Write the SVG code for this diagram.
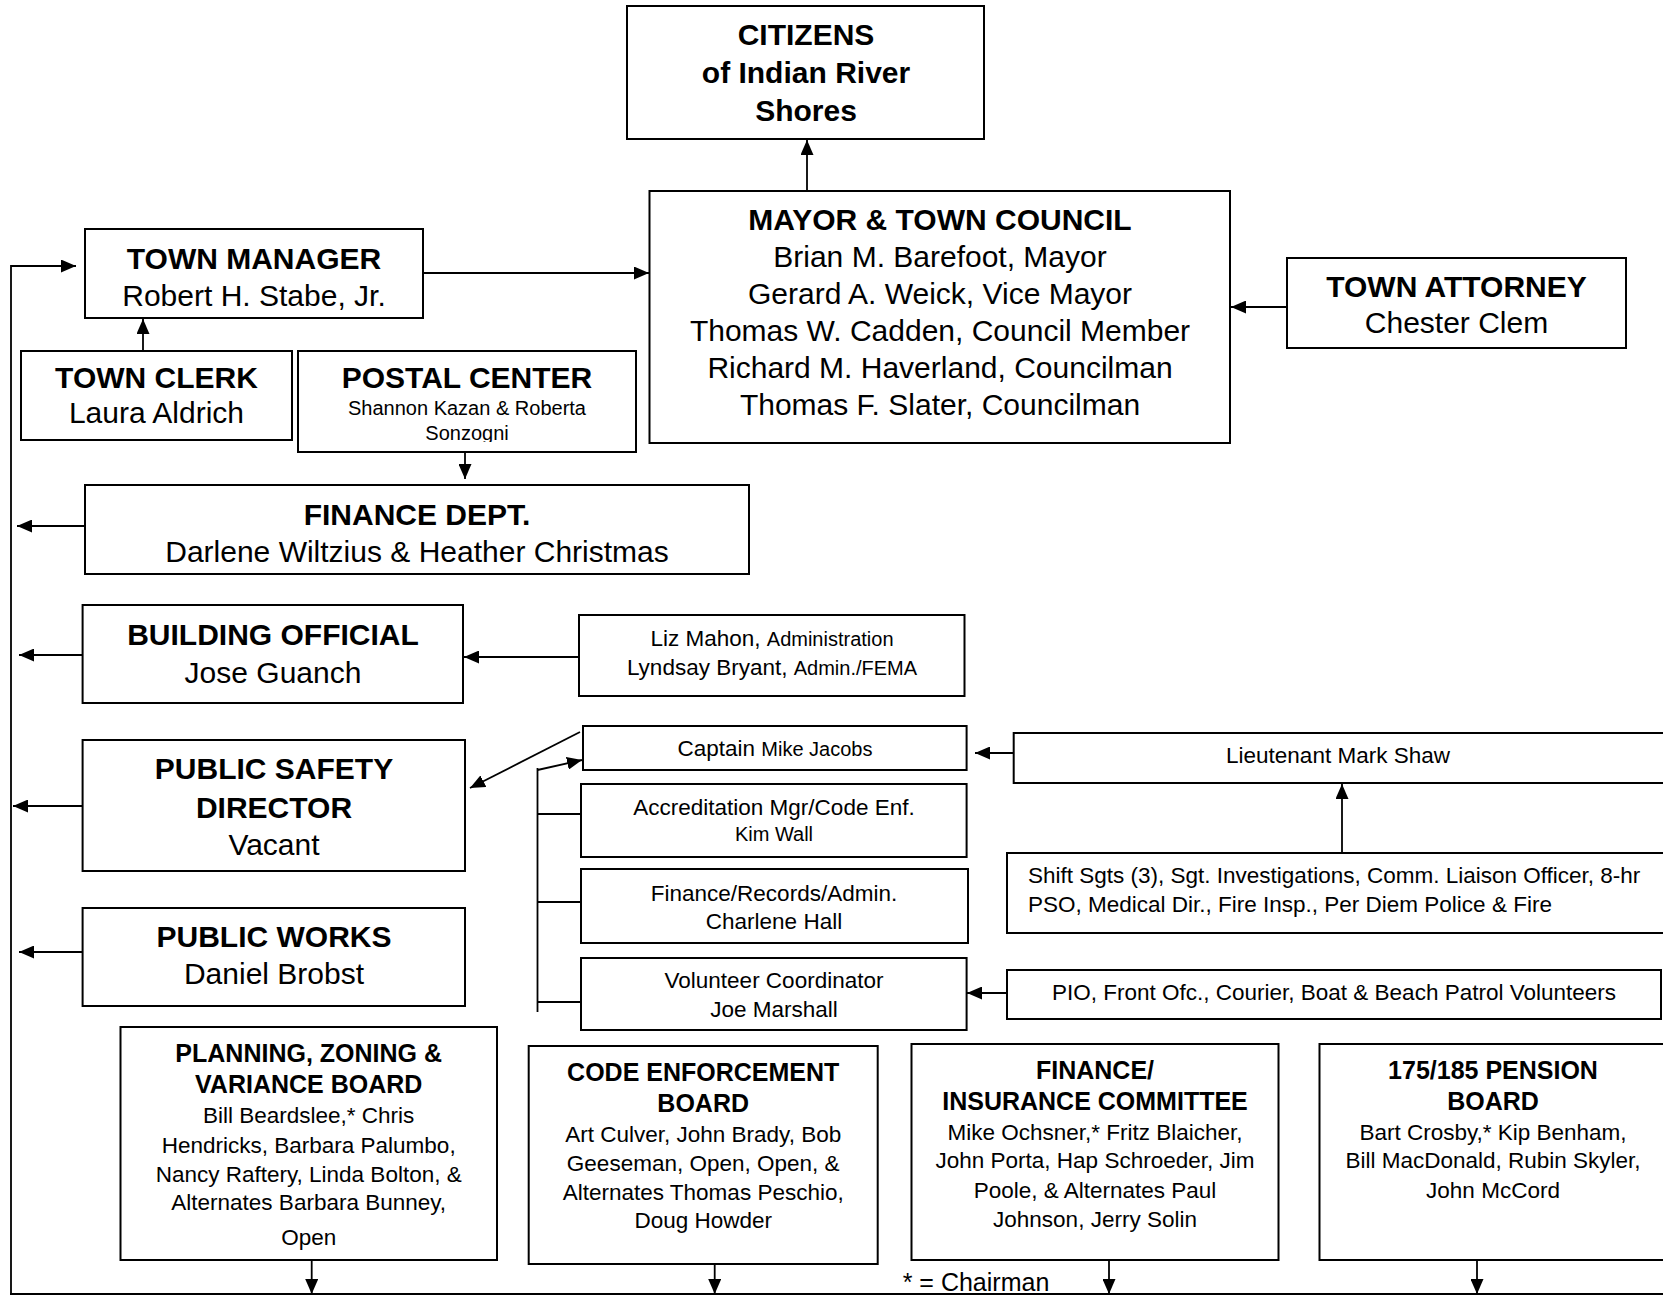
<svg xmlns="http://www.w3.org/2000/svg" width="1663" height="1295" viewBox="0 0 1663 1295">
<style>
  .box{fill:#fff;stroke:#000;stroke-width:2}
  .ln{fill:none;stroke:#000;stroke-width:1.8}
  .arr{fill:none;stroke:#000;stroke-width:1.8;marker-end:url(#ah)}
  text{font-family:"Liberation Sans",Arial,sans-serif;fill:#000;text-anchor:middle}
  .b30{font-size:30px;font-weight:bold}
  .r30{font-size:30px}
  .r22{font-size:22.5px}
  .s20{font-size:20px}
  .b25{font-size:25px;font-weight:bold}
  .r25{font-size:25px}
  .l{text-anchor:start}
</style>
<defs>
  <marker id="ah" viewBox="0 0 15 13" refX="15" refY="6.5" markerWidth="15" markerHeight="13" markerUnits="userSpaceOnUse" orient="auto">
    <path d="M0,0 L15,6.5 L0,13 z" fill="#000"/>
  </marker>
  <clipPath id="postalClip"><rect x="298" y="351" width="338" height="91"/></clipPath>
</defs>
<rect width="1663" height="1295" fill="#fff"/>

<g id="connectors">
  <line class="arr" x1="807" y1="191" x2="807" y2="140"/>
  <line class="arr" x1="423" y1="273" x2="649" y2="273"/>
  <line class="arr" x1="1287" y1="307" x2="1231" y2="307"/>
  <line class="arr" x1="143" y1="351" x2="143" y2="319"/>
  <line class="arr" x1="465" y1="452" x2="465" y2="479"/>
  <polyline class="arr" points="11,1294 11,266 76,266"/>
  <line class="ln" x1="10" y1="1294" x2="1663" y2="1294"/>
  <line class="arr" x1="85" y1="526" x2="17" y2="526"/>
  <line class="arr" x1="83" y1="655" x2="19" y2="655"/>
  <line class="arr" x1="579" y1="657" x2="464" y2="657"/>
  <line class="arr" x1="85" y1="806" x2="13" y2="806"/>
  <line class="arr" x1="83" y1="952" x2="19" y2="952"/>
  <line class="arr" x1="580" y1="732" x2="470" y2="788"/>
  <line class="ln" x1="537.5" y1="768" x2="537.5" y2="1012"/>
  <line class="arr" x1="537.5" y1="770" x2="582" y2="760"/>
  <line class="ln" x1="537.5" y1="814" x2="581" y2="814"/>
  <line class="ln" x1="537.5" y1="902" x2="583" y2="902"/>
  <line class="ln" x1="537.5" y1="1002" x2="581" y2="1002"/>
  <line class="arr" x1="1013" y1="753" x2="975" y2="753"/>
  <line class="arr" x1="1342" y1="853" x2="1342" y2="784"/>
  <line class="arr" x1="1007" y1="993" x2="967" y2="993"/>
  <line class="arr" x1="311.7" y1="1260" x2="311.7" y2="1294"/>
  <line class="arr" x1="714.7" y1="1264" x2="714.7" y2="1294"/>
  <line class="arr" x1="1109" y1="1260" x2="1109" y2="1294"/>
  <line class="arr" x1="1477" y1="1260" x2="1477" y2="1294"/>
</g>

<g id="citizens">
  <rect class="box" x="627" y="6" width="357" height="133"/>
  <text class="b30" x="806" y="45">CITIZENS</text>
  <text class="b30" x="806" y="83">of Indian River</text>
  <text class="b30" x="806" y="121">Shores</text>
</g>

<g id="mayor-council">
  <rect class="box" x="649.5" y="191" width="580.5" height="252"/>
  <text class="b30" x="940" y="230">MAYOR &amp; TOWN COUNCIL</text>
  <text class="r30" x="940" y="267">Brian M. Barefoot, Mayor</text>
  <text class="r30" x="940" y="304">Gerard A. Weick, Vice Mayor</text>
  <text class="r30" x="940" y="341">Thomas W. Cadden, Council Member</text>
  <text class="r30" x="940" y="378">Richard M. Haverland, Councilman</text>
  <text class="r30" x="940" y="415">Thomas F. Slater, Councilman</text>
</g>

<g id="town-attorney">
  <rect class="box" x="1287" y="258" width="339" height="90"/>
  <text class="b30" x="1456.5" y="297">TOWN ATTORNEY</text>
  <text class="r30" x="1456.5" y="333">Chester Clem</text>
</g>

<g id="town-manager">
  <rect class="box" x="85" y="229" width="338" height="89"/>
  <text class="b30" x="254" y="269">TOWN MANAGER</text>
  <text class="r30" x="254" y="306">Robert H. Stabe, Jr.</text>
</g>

<g id="town-clerk">
  <rect class="box" x="21" y="351" width="271" height="89"/>
  <text class="b30" x="156.5" y="388">TOWN CLERK</text>
  <text class="r30" x="156.5" y="423">Laura Aldrich</text>
</g>

<g id="postal-center">
  <rect class="box" x="298" y="351" width="338" height="101"/>
  <text class="b30" x="467" y="388">POSTAL CENTER</text>
  <g clip-path="url(#postalClip)">
    <text class="s20" x="467" y="415">Shannon Kazan &amp; Roberta</text>
    <text class="s20" x="467" y="440">Sonzogni</text>
  </g>
</g>

<g id="finance-dept">
  <rect class="box" x="85" y="485" width="664" height="89"/>
  <text class="b30" x="417" y="525">FINANCE DEPT.</text>
  <text class="r30" x="417" y="562">Darlene Wiltzius &amp; Heather Christmas</text>
</g>

<g id="building-official">
  <rect class="box" x="82.6" y="605" width="380.4" height="98"/>
  <text class="b30" x="273" y="645">BUILDING OFFICIAL</text>
  <text class="r30" x="273" y="682.5">Jose Guanch</text>
</g>

<g id="building-staff">
  <rect class="box" x="579" y="615" width="385.5" height="81"/>
  <text x="772" y="646"><tspan class="r22">Liz Mahon, </tspan><tspan class="s20">Administration</tspan></text>
  <text x="772" y="675"><tspan class="r22">Lyndsay Bryant, </tspan><tspan class="s20">Admin./FEMA</tspan></text>
</g>

<g id="public-safety">
  <rect class="box" x="82.6" y="740" width="382.4" height="131"/>
  <text class="b30" x="274" y="779">PUBLIC SAFETY</text>
  <text class="b30" x="274" y="817.5">DIRECTOR</text>
  <text class="r30" x="274" y="854.6">Vacant</text>
</g>

<g id="captain">
  <rect class="box" x="583" y="726" width="383.6" height="44"/>
  <text x="775" y="756"><tspan class="r22">Captain </tspan><tspan class="s20">Mike Jacobs</tspan></text>
</g>

<g id="lieutenant">
  <rect class="box" x="1013.7" y="733" width="652" height="50"/>
  <text class="r22" x="1338" y="763">Lieutenant Mark Shaw</text>
</g>

<g id="accreditation">
  <rect class="box" x="581" y="784" width="385.6" height="73"/>
  <text class="r22" x="774" y="815">Accreditation Mgr/Code Enf.</text>
  <text class="s20" x="774" y="841">Kim Wall</text>
</g>

<g id="shift-sgts">
  <rect class="box" x="1007" y="853" width="659" height="80"/>
  <text class="r22 l" x="1028" y="883">Shift Sgts (3), Sgt. Investigations, Comm. Liaison Officer, 8-hr</text>
  <text class="r22 l" x="1028" y="912">PSO, Medical Dir., Fire Insp., Per Diem Police &amp; Fire</text>
</g>

<g id="finance-records">
  <rect class="box" x="581" y="869" width="387" height="74"/>
  <text class="r22" x="774" y="901">Finance/Records/Admin.</text>
  <text class="r22" x="774" y="929">Charlene Hall</text>
</g>

<g id="volunteer-coordinator">
  <rect class="box" x="581" y="958" width="385.6" height="72"/>
  <text class="r22" x="774" y="988">Volunteer Coordinator</text>
  <text class="r22" x="774" y="1017">Joe Marshall</text>
</g>

<g id="volunteers">
  <rect class="box" x="1007" y="970" width="654" height="49"/>
  <text class="r22" x="1334" y="1000">PIO, Front Ofc., Courier, Boat &amp; Beach Patrol Volunteers</text>
</g>

<g id="public-works">
  <rect class="box" x="82.6" y="908" width="382.4" height="98"/>
  <text class="b30" x="274" y="947">PUBLIC WORKS</text>
  <text class="r30" x="274" y="984">Daniel Brobst</text>
</g>

<g id="planning-board">
  <rect class="box" x="120.5" y="1027" width="376.5" height="233"/>
  <text class="b25" x="308.7" y="1062">PLANNING, ZONING &amp;</text>
  <text class="b25" x="308.7" y="1093">VARIANCE BOARD</text>
  <text class="r22" x="308.7" y="1123">Bill Beardslee,* Chris</text>
  <text class="r22" x="308.7" y="1153">Hendricks, Barbara Palumbo,</text>
  <text class="r22" x="308.7" y="1182">Nancy Raftery, Linda Bolton, &amp;</text>
  <text class="r22" x="308.7" y="1210">Alternates Barbara Bunney,</text>
  <text class="r22" x="308.7" y="1245">Open</text>
</g>

<g id="code-enforcement-board">
  <rect class="box" x="528.7" y="1046" width="349" height="218"/>
  <text class="b25" x="703.2" y="1081">CODE ENFORCEMENT</text>
  <text class="b25" x="703.2" y="1112">BOARD</text>
  <text class="r22" x="703.2" y="1142">Art Culver, John Brady, Bob</text>
  <text class="r22" x="703.2" y="1171">Geeseman, Open, Open, &amp;</text>
  <text class="r22" x="703.2" y="1200">Alternates Thomas Peschio,</text>
  <text class="r22" x="703.2" y="1228">Doug Howder</text>
</g>

<g id="finance-insurance-committee">
  <rect class="box" x="911.5" y="1044" width="367" height="216"/>
  <text class="b25" x="1095" y="1079">FINANCE/</text>
  <text class="b25" x="1095" y="1110">INSURANCE COMMITTEE</text>
  <text class="r22" x="1095" y="1140">Mike Ochsner,* Fritz Blaicher,</text>
  <text class="r22" x="1095" y="1168">John Porta, Hap Schroeder, Jim</text>
  <text class="r22" x="1095" y="1198">Poole, &amp; Alternates Paul</text>
  <text class="r22" x="1095" y="1227">Johnson, Jerry Solin</text>
</g>

<g id="pension-board">
  <rect class="box" x="1319.5" y="1044" width="347" height="216"/>
  <text class="b25" x="1493" y="1079">175/185 PENSION</text>
  <text class="b25" x="1493" y="1110">BOARD</text>
  <text class="r22" x="1493" y="1140">Bart Crosby,* Kip Benham,</text>
  <text class="r22" x="1493" y="1168">Bill MacDonald, Rubin Skyler,</text>
  <text class="r22" x="1493" y="1198">John McCord</text>
</g>

<g id="legend">
  <text class="r25 l" x="902.7" y="1291">* = Chairman</text>
</g>
</svg>
